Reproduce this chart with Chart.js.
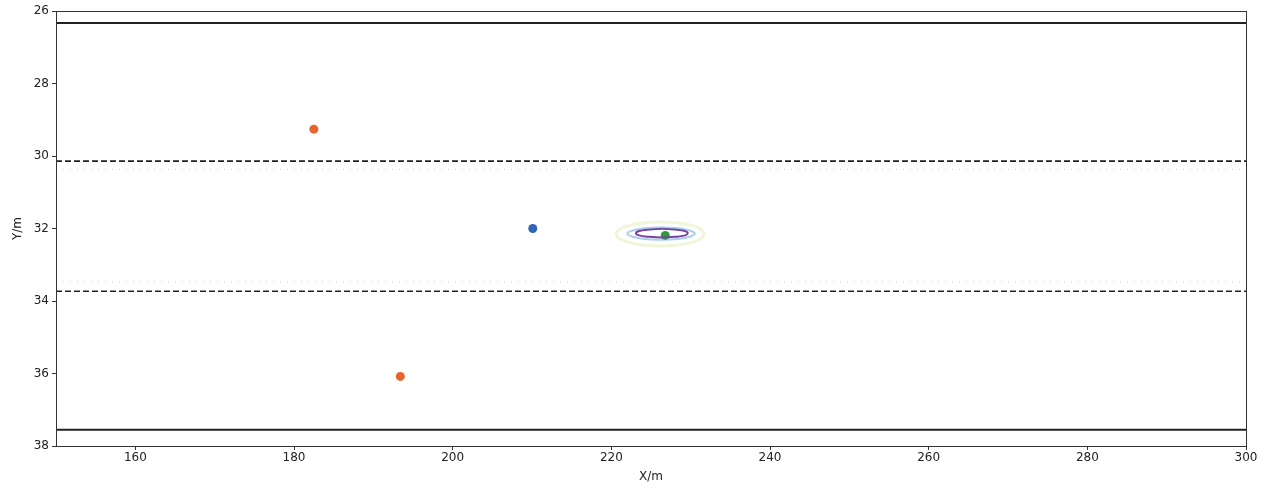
<!DOCTYPE html>
<html>
<head>
<meta charset="utf-8">
<script src="https://cdn.jsdelivr.net/npm/chart.js@4"></script>
<style>
  html, body { margin: 0; padding: 0; background: #fff; }
  #wrap { width: 1270px; height: 488px; }
</style>
</head>
<body>
<div id="wrap"><canvas id="myChart" width="1270" height="488"></canvas></div>
<script>
const xTicks = [160, 180, 200, 220, 240, 260, 280, 300];
const yTicks = [26, 28, 30, 32, 34, 36, 38];

// boundaries (y values), drawn across the full x range
const xSpan = [150, 300];
const solidLines = [26.33, 37.55];
const dashedLines = [30.14, 33.73];
const dottedLines = [30.37, 33.47];

// markers
const orangePts = [{ x: 182.5, y: 29.26 }, { x: 193.4, y: 36.08 }];
const bluePts = [{ x: 210.1, y: 32.0 }];
const greenPts = [{ x: 226.8, y: 32.19 }];

// contour rings
const ringOuter = [
  [231.8, 32.15], [231.0, 31.98], [228.9, 31.86], [226.2, 31.82], [223.5, 31.86],
  [221.4, 31.98], [220.6, 32.15], [221.4, 32.32], [223.5, 32.44], [226.2, 32.48],
  [228.9, 32.44], [231.0, 32.32], [231.8, 32.15]
];
const ringMid = [
  [230.6, 32.14], [230.0, 32.06], [228.4, 31.99], [226.3, 31.97], [224.2, 31.99],
  [222.6, 32.06], [222.0, 32.14], [222.6, 32.22], [224.2, 32.29], [226.3, 32.31],
  [228.4, 32.29], [230.0, 32.22], [230.6, 32.14]
];
const ringInner = [
  [229.7, 32.13], [229.3, 32.07], [228.0, 32.03], [226.4, 32.01], [224.8, 32.03],
  [223.5, 32.07], [223.1, 32.13], [223.5, 32.19], [224.8, 32.23], [226.4, 32.25],
  [228.0, 32.23], [229.3, 32.19], [229.7, 32.13]
];

const toPts = (arr) => arr.map(([x, y]) => ({ x, y }));

const hLine = (y, color, width, dash) => ({
  type: "line",
  data: xSpan.map((x) => ({ x, y })),
  borderColor: color,
  borderWidth: width,
  borderDash: dash,
  pointRadius: 0,
  fill: false,
});

const ring = (arr, color, width, fillColor) => ({
  type: "line",
  data: toPts(arr),
  borderColor: color,
  borderWidth: width,
  backgroundColor: fillColor,
  fill: fillColor ? true : false,
  pointRadius: 0,
  tension: 0.4,
});

const dot = (pts, color) => ({
  type: "scatter",
  data: pts,
  backgroundColor: color,
  borderColor: color,
  pointRadius: 4.5,
  borderWidth: 0,
});

const datasets = [
  ...dottedLines.map((y) => hLine(y, "#cfcfcf", 1, [1, 6])),
  ...solidLines.map((y) => hLine(y, "#222", 2, [])),
  ...dashedLines.map((y) => hLine(y, "#222", 1.6, [6, 3])),
  ring(ringOuter, "rgba(220,235,170,0.45)", 3, "rgba(235,245,215,0.35)"),
  ring(ringMid, "rgba(90,160,210,0.5)", 2, "rgba(170,210,235,0.3)"),
  ring(ringInner, "#7a3fa0", 2, null),
  dot(orangePts, "#e8642c"),
  dot(bluePts, "#2f66b8"),
  dot(greenPts, "#2c9a3c"),
];

const frame = {
  id: "frame",
  afterDatasetsDraw(chart) {
    const { ctx, chartArea: a } = chart;
    ctx.save();
    ctx.strokeStyle = "#333";
    ctx.lineWidth = 1;
    ctx.strokeRect(a.left + 0.5, a.top + 0.5, a.right - a.left, a.bottom - a.top);
    ctx.restore();
  },
};

Chart.defaults.font.family = "'DejaVu Sans', sans-serif";
Chart.defaults.font.size = 12;
Chart.defaults.color = "#222";

new Chart(document.getElementById("myChart"), {
  type: "scatter",
  data: { datasets },
  options: {
    responsive: false,
    animation: false,
    layout: { padding: { top: 11, right: 24, left: 11, bottom: 0 } },
    plugins: { legend: { display: false }, tooltip: { enabled: false } },
    scales: {
      x: {
        type: "linear",
        min: 150,
        max: 300,
        afterBuildTicks: (s) => { s.ticks = xTicks.map((v) => ({ value: v })); },
        afterFit: (s) => { s.height = 42; },
        grid: { drawOnChartArea: false, drawTicks: true, tickLength: 4, color: "#333" },
        border: { display: true, color: "#333" },
        ticks: { padding: 1, color: "#222" },
        title: { display: true, text: "X/m", padding: { top: 0, bottom: 4 }, color: "#222", font: { size: 12 } },
      },
      y: {
        type: "linear",
        reverse: true,
        min: 26,
        max: 38,
        afterBuildTicks: (s) => { s.ticks = yTicks.map((v) => ({ value: v })); },
        afterFit: (s) => { s.width = 45; },
        grid: { drawOnChartArea: false, drawTicks: true, tickLength: 4, color: "#333" },
        border: { display: true, color: "#333" },
        ticks: { padding: 3, color: "#222" },
        title: { display: true, text: "Y/m", padding: 0, color: "#222", font: { size: 12 } },
      },
    },
  },
  plugins: [frame],
});
</script>
</body>
</html>
